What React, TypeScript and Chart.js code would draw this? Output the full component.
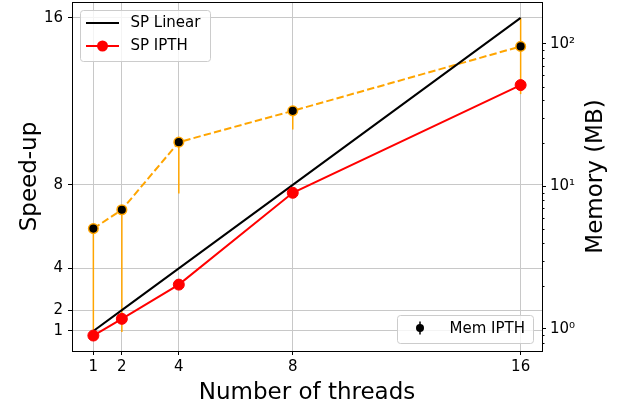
import React, { useEffect, useRef } from 'react';
import { Chart, registerables } from 'chart.js';

Chart.register(...registerables);

const threads = [1, 2, 4, 8, 16];
const speedupLinear = [1, 2, 4, 8, 16];
const speedupIPTH = [0.78, 1.58, 3.22, 7.62, 12.78];
const memIPTH = [5.05, 6.85, 20.4, 33.8, 95.7];
const memLow = [0.98, 0.95, 8.9, 25.0, 44.3];
const memHigh = [5.3, 7.2, 21.5, 35.5, 151];
const xTicks = [1, 2, 4, 8, 16];
const speedupTicks = [1, 2, 4, 8, 16];
const memTicks = [1, 10, 100];
const memTickLabels = ['10⁰', '10¹', '10²'];
const memMinorTicks = [0.8, 0.9, 2, 3, 4, 5, 6, 7, 8, 9, 20, 30, 40, 50, 60, 70, 80, 90];

const FONT = '"DejaVu Sans", sans-serif';
const ORANGE = '#FFA500';
const GRID = '#c8c8c8';

const decorPlugin = {
  id: 'decor',
  afterDraw(chart: any) {
    const { ctx, chartArea: a, scales } = chart;
    ctx.save();
    // frame
    ctx.strokeStyle = '#000';
    ctx.lineWidth = 1;
    ctx.strokeRect(Math.round(a.left) + 0.5, Math.round(a.top) + 0.5, Math.round(a.right) - Math.round(a.left), Math.round(a.bottom) - Math.round(a.top));
    // minor ticks on right log axis
    const y1 = scales.y1;
    ctx.beginPath();
    memMinorTicks.forEach((v) => {
      const py = y1.getPixelForValue(v);
      if (py >= a.top && py <= a.bottom) {
        const yy = Math.round(py) + 0.5;
        ctx.moveTo(Math.round(a.right), yy);
        ctx.lineTo(Math.round(a.right) + 2.5, yy);
      }
    });
    ctx.stroke();

    // axis titles
    ctx.fillStyle = '#000';
    ctx.font = `23px ${FONT}`;
    ctx.textAlign = 'center';
    ctx.textBaseline = 'alphabetic';
    ctx.fillText('Number of threads', (a.left + a.right) / 2, 399);
    ctx.save();
    ctx.translate(36, (a.top + a.bottom) / 2);
    ctx.rotate(-Math.PI / 2);
    ctx.fillText('Speed-up', 0, 0);
    ctx.restore();
    ctx.save();
    ctx.translate(602, (a.top + a.bottom) / 2);
    ctx.rotate(-Math.PI / 2);
    ctx.fillText('Memory (MB)', 0, 0);
    ctx.restore();

    // legend 1 (upper left)
    ctx.font = `15px ${FONT}`;
    ctx.textAlign = 'left';
    ctx.textBaseline = 'middle';
    const box = (x: number, y: number, w: number, h: number) => {
      ctx.beginPath();
      ctx.roundRect(x, y, w, h, 3);
      ctx.fillStyle = 'rgba(255,255,255,0.8)';
      ctx.fill();
      ctx.strokeStyle = '#cccccc';
      ctx.lineWidth = 1;
      ctx.stroke();
    };
    box(80.5, 10.5, 130, 51);
    ctx.strokeStyle = '#000';
    ctx.lineWidth = 2;
    ctx.beginPath();
    ctx.moveTo(86, 23);
    ctx.lineTo(119, 23);
    ctx.stroke();
    ctx.fillStyle = '#000';
    ctx.fillText('SP Linear', 130.5, 23);
    ctx.strokeStyle = 'red';
    ctx.beginPath();
    ctx.moveTo(86, 46);
    ctx.lineTo(119, 46);
    ctx.stroke();
    ctx.fillStyle = 'red';
    ctx.beginPath();
    ctx.arc(102.5, 46, 5.5, 0, Math.PI * 2);
    ctx.fill();
    ctx.fillStyle = '#000';
    ctx.fillText('SP IPTH', 130.5, 46);

    // legend 2 (lower right)
    box(397.5, 315.5, 136, 28);
    ctx.strokeStyle = '#000';
    ctx.lineWidth = 1.5;
    ctx.beginPath();
    ctx.moveTo(420, 321.5);
    ctx.lineTo(420, 334.5);
    ctx.stroke();
    ctx.fillStyle = '#000';
    ctx.beginPath();
    ctx.arc(420, 328, 4, 0, Math.PI * 2);
    ctx.fill();
    ctx.fillText('Mem IPTH', 449.5, 329);
    ctx.restore();
  },
};

export default function App() {
  const ref = useRef<HTMLCanvasElement | null>(null);

  useEffect(() => {
    if (!ref.current) return;
    const errorSets = threads.map((t, i) => ({
      label: `err${i}`,
      data: [
        { x: t, y: memLow[i] },
        { x: t, y: memHigh[i] },
      ],
      yAxisID: 'y1',
      borderColor: ORANGE,
      borderWidth: 1.5,
      pointRadius: 0,
      fill: false,
      order: 4,
    }));
    const chart = new Chart(ref.current, {
      type: 'line',
      data: {
        datasets: [
          {
            label: 'SP IPTH',
            data: threads.map((t, i) => ({ x: t, y: speedupIPTH[i] })),
            yAxisID: 'y',
            borderColor: 'red',
            backgroundColor: 'red',
            borderWidth: 2,
            pointRadius: 5.5,
            pointBorderWidth: 1,
            pointBorderColor: 'red',
            pointBackgroundColor: 'red',
            order: 0,
          },
          {
            label: 'SP Linear',
            data: threads.map((t, i) => ({ x: t, y: speedupLinear[i] })),
            yAxisID: 'y',
            borderColor: '#000',
            borderWidth: 2,
            pointRadius: 0,
            order: 1,
          },
          {
            label: 'Mem IPTH',
            data: threads.map((t, i) => ({ x: t, y: memIPTH[i] })),
            yAxisID: 'y1',
            borderColor: ORANGE,
            borderWidth: 2,
            borderDash: [7.4, 3.2],
            pointRadius: 4.8,
            pointBorderWidth: 1.5,
            pointBorderColor: ORANGE,
            pointBackgroundColor: '#000',
            order: 2,
          },
          ...errorSets,
        ] as any,
      },
      options: {
        animation: false,
        responsive: false,
        maintainAspectRatio: false,
        layout: { padding: { top: 2, left: 0, right: 0, bottom: 0 }, autoPadding: false },
        plugins: {
          legend: { display: false },
          tooltip: { enabled: false },
        },
        scales: {
          x: {
            type: 'linear',
            position: 'bottom',
            min: 0.25,
            max: 16.75,
            afterBuildTicks: (s: any) => {
              s.ticks = xTicks.map((v) => ({ value: v }));
            },
            afterFit: (s: any) => {
              s.height = 60;
              s.paddingLeft = 0;
              s.paddingRight = 0;
            },
            ticks: {
              color: '#000',
              font: { family: FONT, size: 15 },
              padding: 3,
              maxRotation: 0,
              callback: (v: any) => String(v),
            },
            grid: { color: GRID, lineWidth: 1, tickColor: '#000', tickLength: 4, drawTicks: true },
            border: { display: false },
          },
          y: {
            type: 'linear',
            position: 'left',
            min: 0.04,
            max: 16.76,
            afterBuildTicks: (s: any) => {
              s.ticks = speedupTicks.map((v) => ({ value: v }));
            },
            afterFit: (s: any) => {
              s.width = 72;
              s.paddingTop = 0;
              s.paddingBottom = 0;
            },
            ticks: {
              color: '#000',
              font: { family: FONT, size: 15 },
              padding: 5,
              callback: (v: any) => String(v),
            },
            grid: { color: GRID, lineWidth: 1, tickColor: '#000', tickLength: 4, drawTicks: true },
            border: { display: false },
          },
          y1: {
            type: 'logarithmic',
            position: 'right',
            min: 0.738,
            max: 196,
            afterBuildTicks: (s: any) => {
              s.ticks = memTicks.map((v) => ({ value: v }));
            },
            afterFit: (s: any) => {
              s.width = 77;
              s.paddingTop = 0;
              s.paddingBottom = 0;
            },
            ticks: {
              color: '#000',
              font: { family: FONT, size: 15 },
              padding: 4,
              callback: (v: any) => {
                const i = memTicks.indexOf(Number(v));
                return i >= 0 ? memTickLabels[i] : '';
              },
            },
            grid: { drawOnChartArea: false, tickColor: '#000', tickLength: 4, drawTicks: true },
            border: { display: false },
          },
        },
      } as any,
      plugins: [decorPlugin],
    });
    return () => chart.destroy();
  }, []);

  return (
    <div style={{ position: 'absolute', left: 0, top: 0, width: 619, height: 411, background: '#fff' }}>
      <canvas ref={ref} width={619} height={411} style={{ display: 'block', width: 619, height: 411 }} />
    </div>
  );
}
